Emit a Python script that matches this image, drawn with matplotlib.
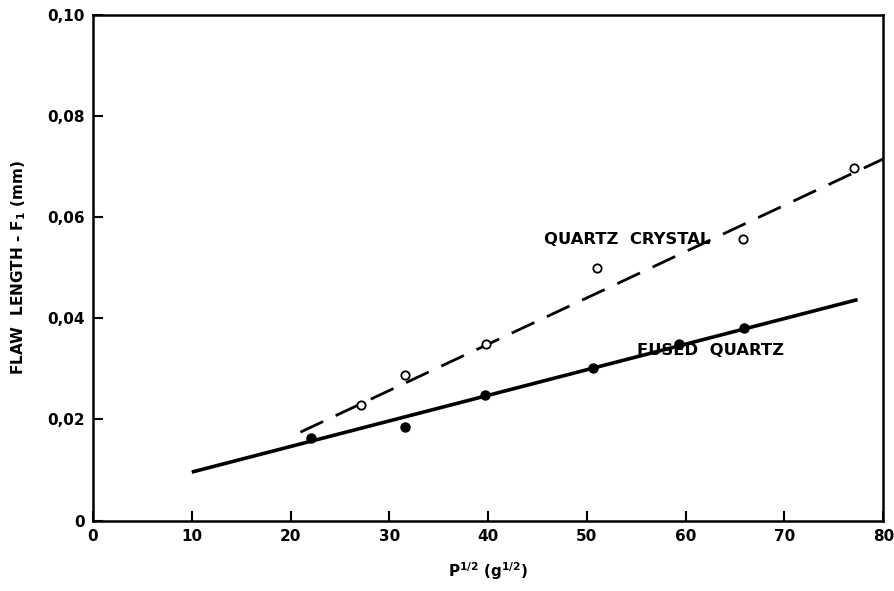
import matplotlib.pyplot as plt
import numpy as np

# fused quartz (filled points) and quartz crystal (open points)
fused_x = [22.1, 31.6, 39.7, 50.6, 59.3, 65.9]
fused_y = [0.0163, 0.0185, 0.0249, 0.0301, 0.0350, 0.0381]
crystal_x = [27.1, 31.6, 39.8, 51.0, 65.8, 77.0]
crystal_y = [0.0229, 0.0288, 0.0350, 0.0500, 0.0557, 0.0697]

# fitted lines (end points)
fused_fit_x = [10, 77.4]
fused_fit_y = [0.0096, 0.0437]
crystal_fit_x = [21, 80]
crystal_fit_y = [0.0175, 0.0715]

x_ticks = [0, 10, 20, 30, 40, 50, 60, 70, 80]
y_ticks = [0, 0.02, 0.04, 0.06, 0.08, 0.10]
y_tick_labels = ["0", "0,02", "0,04", "0,06", "0,08", "0,10"]

fig = plt.figure(figsize=(8.94, 5.91), dpi=100)
ax = fig.add_axes([0.104, 0.119, 0.884, 0.856])

ax.plot(fused_fit_x, fused_fit_y, color="black", lw=2.6, solid_capstyle="butt")
ax.plot(crystal_fit_x, crystal_fit_y, color="black", lw=2.0, dashes=(9, 5))
ax.plot(fused_x, fused_y, "o", color="black", markersize=6.5, zorder=3)
ax.plot(crystal_x, crystal_y, "o", markerfacecolor="white", markeredgecolor="black",
        markeredgewidth=1.3, markersize=6, zorder=3)

ax.text(45.7, 0.0555, "QUARTZ  CRYSTAL", fontsize=11.8, fontweight="bold",
        va="center", ha="left")
ax.text(55.1, 0.0337, "FUSED  QUARTZ", fontsize=11.8, fontweight="bold",
        va="center", ha="left")

ax.set_xlim(0, 80)
ax.set_ylim(0, 0.10)
ax.set_xticks(x_ticks)
ax.set_xticklabels([str(v) for v in x_ticks])
ax.set_yticks(y_ticks)
ax.set_yticklabels(y_tick_labels)
ax.tick_params(direction="in", length=7, width=1.5, labelsize=11, pad=6)
for lab in ax.get_xticklabels() + ax.get_yticklabels():
    lab.set_fontweight("bold")
for sp in ax.spines.values():
    sp.set_linewidth(1.8)

ax.set_xlabel(r"$\mathbf{P^{1/2}\ (g^{1/2})}$", fontsize=11, labelpad=12)
ax.set_ylabel(r"FLAW  LENGTH - F$_\mathbf{1}$ (mm)", fontsize=11, fontweight="bold",
              labelpad=14)

fig.savefig("out.png", dpi=100)
